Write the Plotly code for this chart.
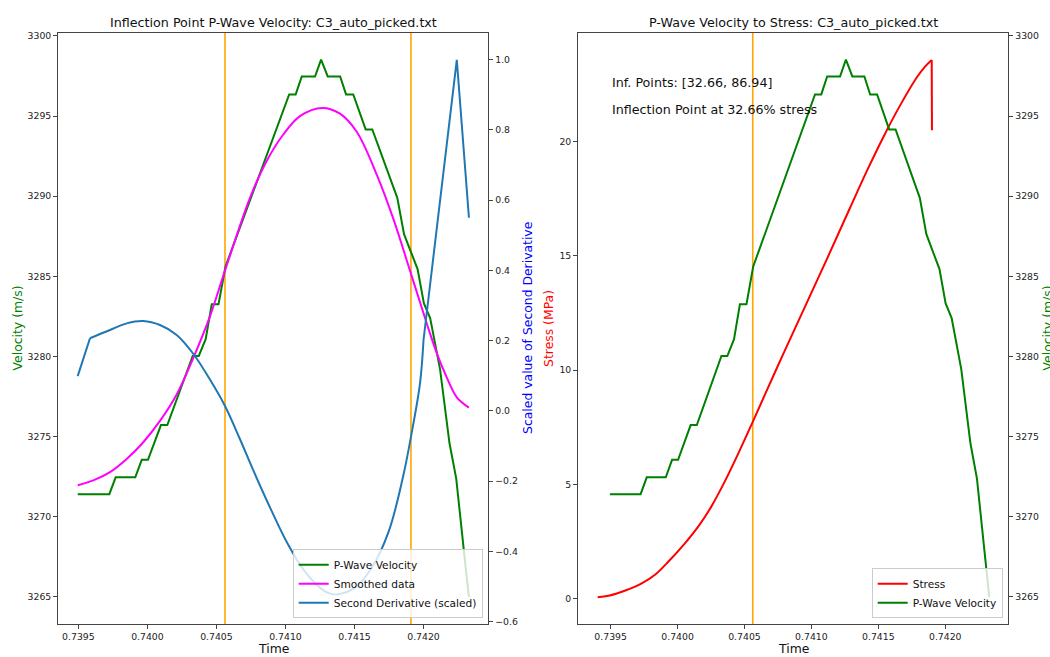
import plotly.graph_objects as go

# ---------------- data ----------------
velocity_time = [0.739495, 0.739724, 0.739770, 0.739912, 0.739959, 0.740004, 0.740098, 0.740144,
                 0.740328, 0.740372, 0.740422, 0.740466, 0.740515, 0.740565, 0.741027, 0.741074,
                 0.741118, 0.741214, 0.741258, 0.741306, 0.741396, 0.741439, 0.741491, 0.741581,
                 0.741629, 0.741810, 0.741859, 0.741957, 0.742003, 0.742048, 0.742120, 0.742188,
                 0.742237, 0.742275, 0.742312, 0.742329]
velocity_values = [3271.41, 3271.41, 3272.46, 3272.46, 3273.55, 3273.55, 3275.72, 3275.72,
                   3280.03, 3280.03, 3281.08, 3283.26, 3283.26, 3285.6, 3296.35, 3296.35,
                   3297.47, 3297.47, 3298.52, 3297.47, 3297.47, 3296.35, 3296.35, 3294.17,
                   3294.17, 3289.90, 3287.63, 3285.45, 3283.31, 3282.4, 3279.2, 3274.6,
                   3272.38, 3269.5, 3266.3, 3264.98]

smoothed_time = [0.739495, 0.739608, 0.739729, 0.739850, 0.739970, 0.740091, 0.740212, 0.740332,
                 0.740453, 0.740562, 0.740743, 0.740864, 0.740984, 0.741105, 0.741267, 0.741395,
                 0.741516, 0.741661, 0.741781, 0.741902, 0.742023, 0.742096, 0.742168, 0.742241,
                 0.742329]
smoothed_values = [3271.96, 3272.27, 3272.79, 3273.61, 3274.65, 3275.98, 3277.63, 3279.90,
                   3282.50, 3285.36, 3289.90, 3292.20, 3293.85, 3295.00, 3295.51, 3295.15,
                   3294.02, 3291.35, 3288.60, 3285.36, 3282.07, 3280.21, 3278.70, 3277.45,
                   3276.81]

deriv_time = [0.739495, 0.739584, 0.739729, 0.739850, 0.739970, 0.740091, 0.740212, 0.740332,
              0.740453, 0.740562, 0.740670, 0.740768, 0.740891, 0.741013, 0.741136, 0.741258,
              0.741320, 0.741381, 0.741503, 0.741625, 0.741748, 0.741854, 0.741915, 0.741975,
              0.742000, 0.742241, 0.742329]
deriv_values = [0.099, 0.207, 0.2305, 0.2494, 0.256, 0.2446, 0.2164, 0.1628,
                0.0894, 0.0141, -0.080, -0.170, -0.2774, -0.376, -0.455, -0.506,
                -0.520, -0.522, -0.5031, -0.4467, -0.3431, -0.1834, -0.0609, 0.0801,
                0.202, 1.0, 0.5502]

stress_time = [0.739403, 0.739485, 0.739610, 0.739732, 0.739834, 0.739934, 0.740050, 0.740161,
               0.740250, 0.740338, 0.740450, 0.740561, 0.740743, 0.740864, 0.741096, 0.741289,
               0.741413, 0.741538, 0.741662, 0.741787, 0.741849, 0.741899, 0.741901]
stress_values = [0.06, 0.12, 0.35, 0.66, 1.05, 1.63, 2.38, 3.20,
                 4.00, 4.95, 6.30, 7.72, 10.10, 11.65, 14.60, 17.10,
                 18.69, 20.20, 21.57, 22.80, 23.28, 23.57, 20.49]

inflection_times = [0.740562, 0.741909]
inflection_pct = [32.66, 86.94]

velocity_ticks = [3265, 3270, 3275, 3280, 3285, 3290, 3295, 3300]
deriv_ticks = [-0.6, -0.4, -0.2, 0.0, 0.2, 0.4, 0.6, 0.8, 1.0]
stress_ticks = [0, 5, 10, 15, 20]
time_ticks = [0.7395, 0.7400, 0.7405, 0.7410, 0.7415, 0.7420]

# ---------------- figure ----------------
W, H = 1050, 657
FONT = "DejaVu Sans"
GREEN, MAGENTA, BLUE, RED, ORANGE = "#008000", "#ff00ff", "#1f77b4", "#ff0000", "#ffa500"

def px_x(p):
    return p / W

def px_y(p):
    return 1 - p / H

dom_left = [px_x(58.1), px_x(488.4)]
dom_right = [px_x(578.1), px_x(1008.4)]
dom_y = [px_y(626.7), px_y(30)]

fig = go.Figure()

fig.add_trace(go.Scatter(x=velocity_time, y=velocity_values, mode="lines", name="P-Wave Velocity",
                         line=dict(color=GREEN, width=2), xaxis="x", yaxis="y", legend="legend"))
fig.add_trace(go.Scatter(x=smoothed_time, y=smoothed_values, mode="lines", name="Smoothed data",
                         line=dict(color=MAGENTA, width=2, shape="spline", smoothing=1.0),
                         xaxis="x", yaxis="y", legend="legend"))
# second derivative: straight first step, smooth body, sharp final spike
fig.add_trace(go.Scatter(x=deriv_time[1:25], y=deriv_values[1:25], mode="lines",
                         name="Second Derivative (scaled)",
                         line=dict(color=BLUE, width=2, shape="spline", smoothing=1.0),
                         xaxis="x", yaxis="y2", legend="legend"))
fig.add_trace(go.Scatter(x=deriv_time[:2], y=deriv_values[:2], mode="lines", showlegend=False,
                         line=dict(color=BLUE, width=2), xaxis="x", yaxis="y2", legend="legend"))
fig.add_trace(go.Scatter(x=deriv_time[24:], y=deriv_values[24:], mode="lines", showlegend=False,
                         line=dict(color=BLUE, width=2), xaxis="x", yaxis="y2", legend="legend"))

fig.add_trace(go.Scatter(x=stress_time[:-1], y=stress_values[:-1], mode="lines", name="Stress",
                         line=dict(color=RED, width=2, shape="spline", smoothing=1.0),
                         xaxis="x2", yaxis="y3", legend="legend2"))
fig.add_trace(go.Scatter(x=stress_time[-2:], y=stress_values[-2:], mode="lines", showlegend=False,
                         line=dict(color=RED, width=2), xaxis="x2", yaxis="y3", legend="legend2"))
fig.add_trace(go.Scatter(x=velocity_time, y=velocity_values, mode="lines", name="P-Wave Velocity",
                         line=dict(color=GREEN, width=2), xaxis="x2", yaxis="y4", legend="legend2"))

shapes = []
for t in inflection_times:
    shapes.append(dict(type="line", xref="x", yref="y domain", x0=t, x1=t, y0=0, y1=1,
                       line=dict(color=ORANGE, width=1.6), layer="below"))
shapes.append(dict(type="line", xref="x2", yref="y3 domain", x0=inflection_times[0], x1=inflection_times[0],
                   y0=0, y1=1, line=dict(color=ORANGE, width=1.6), layer="below"))

axis_common = dict(showline=True, linecolor="#444", linewidth=1, ticks="outside", ticklen=4,
                   tickcolor="#444", tickfont=dict(family=FONT, size=9.3, color="#222"),
                   showgrid=False, zeroline=False)

legend_common = dict(xanchor="right", yanchor="bottom",
                     bgcolor="rgba(255,255,255,0.8)", bordercolor="#cccccc", borderwidth=1,
                     font=dict(family=FONT, size=10.6, color="#111"), tracegroupgap=0)

fig.update_layout(
    width=W, height=H,
    margin=dict(l=0, r=0, t=0, b=0),
    paper_bgcolor="white", plot_bgcolor="white",
    font=dict(family=FONT, color="#111"),
    shapes=shapes,
    xaxis=dict(domain=dom_left, range=[0.739353, 0.74247], tickvals=time_ticks, tickformat=".4f",
               anchor="y", mirror=True, **axis_common),
    yaxis=dict(domain=dom_y, range=[3263.31, 3300.2], tickvals=velocity_ticks, anchor="x", **axis_common),
    yaxis2=dict(domain=dom_y, range=[-0.6067, 1.077], tickvals=deriv_ticks, tickformat=".1f",
                overlaying="y", side="right", anchor="x", **axis_common),
    xaxis2=dict(domain=dom_right, range=[0.739257, 0.742472], tickvals=time_ticks, tickformat=".4f",
                anchor="y3", mirror=True, **axis_common),
    yaxis3=dict(domain=dom_y, range=[-1.114, 24.76], tickvals=stress_ticks, anchor="x2", **axis_common),
    yaxis4=dict(domain=dom_y, range=[3263.31, 3300.2], tickvals=velocity_ticks,
                overlaying="y3", side="right", anchor="x2", **axis_common),
    legend=dict(x=px_x(482.7), y=px_y(621), **legend_common),
    legend2=dict(x=px_x(1002.7), y=px_y(621), **legend_common),
    showlegend=True,
)

ann = []
def add_text(text, x, y, size, color="#111", angle=0, xanchor="center"):
    ann.append(dict(text=text, x=px_x(x), y=px_y(y), xref="paper", yref="paper", showarrow=False,
                    xanchor=xanchor, yanchor="middle", textangle=angle,
                    font=dict(family=FONT, size=size, color=color)))

add_text("Inflection Point P-Wave Velocity: C3_auto_picked.txt", 273.3, 20, 12.7)
add_text("P-Wave Velocity to Stress: C3_auto_picked.txt", 793.3, 20, 12.7)
add_text("Time", 273.3, 651.7, 12.4)
add_text("Time", 793.3, 651.7, 12.4)
add_text("Velocity (m/s)", 17, 328.4, 12.4, GREEN, -90)
add_text("Scaled value of Second Derivative", 527.5, 328.4, 12.4, "#0000ff", -90)
add_text("Stress (MPa)", 548.5, 328.4, 12.4, RED, -90)
add_text("Velocity (m/s)", 1047, 328.4, 12.4, GREEN, -90)
add_text("Inf. Points: [%.2f, %.2f]" % (inflection_pct[0], inflection_pct[1]), 610, 80, 12.7, xanchor="left")
add_text("Inflection Point at %.2f%% stress" % inflection_pct[0], 610, 107.3, 12.7, xanchor="left")
fig.update_layout(annotations=ann)

fig.write_html(
    "out.html",
    config={"displayModeBar": False},
    post_script="document.body.style.margin='0';document.body.style.padding='0';"
                "document.documentElement.style.overflow='hidden';",
)
